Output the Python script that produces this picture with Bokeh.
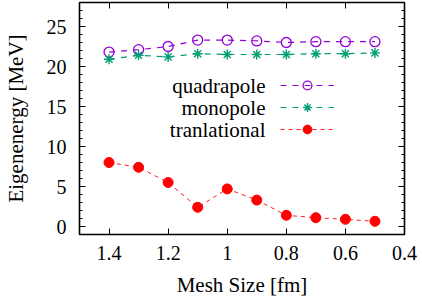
from bokeh.plotting import figure
from bokeh.models import (Range1d, FixedTicker, LinearAxis, CustomJSTickFormatter,
                          Legend, LegendItem, Label)
from bokeh.embed import file_html
from bokeh.resources import INLINE

# ---- data ----
mesh = [1.4, 1.3, 1.2, 1.1, 1.0, 0.9, 0.8, 0.7, 0.6, 0.5]
quadrapole = [21.8, 22.1, 22.5, 23.3, 23.3, 23.2, 23.0, 23.1, 23.1, 23.1]
monopole = [20.9, 21.4, 21.2, 21.6, 21.5, 21.5, 21.5, 21.6, 21.6, 21.7]
tranlational = [8.0, 7.4, 5.5, 2.4, 4.7, 3.3, 1.4, 1.1, 0.9, 0.65]
series_names = ["quadrapole", "monopole", "tranlational"]
x_ticks = [1.4, 1.2, 1.0, 0.8, 0.6, 0.4]
y_ticks = [0, 5, 10, 15, 20, 25]
y_minor = [v for v in range(1, 28) if v % 5 != 0]

FONT = "Liberation Serif"
C_QUAD = "#9400D3"
C_MONO = "#009E73"
C_TRAN = "#FF0000"

p = figure(width=422, height=300, output_backend="svg", toolbar_location=None,
           x_range=Range1d(1.5, 0.4), y_range=Range1d(-1.0, 28.0),
           min_border_left=75, min_border_right=18, min_border_top=2,
           min_border_bottom=66, x_axis_location=None, y_axis_location=None)
p.grid.visible = False
p.outline_line_color = "black"
p.outline_line_width = 1.6
p.background_fill_color = "white"
p.border_fill_color = "white"

fmt = CustomJSTickFormatter(code="return String(Math.round(tick*10)/10);")
blank = CustomJSTickFormatter(code="return '';")

def style_axis(ax, labels=True):
    ax.axis_line_color = None
    ax.major_tick_in = 6
    ax.major_tick_out = 0
    ax.minor_tick_in = 3
    ax.minor_tick_out = 0
    ax.major_tick_line_color = "black"
    ax.minor_tick_line_color = "black"
    ax.major_label_text_font = FONT
    ax.major_label_text_color = "black"
    ax.axis_label_text_font = FONT
    ax.axis_label_text_font_style = "normal"
    ax.axis_label_text_color = "black"
    if not labels:
        ax.formatter = blank
        ax.major_label_text_font_size = "0px"
        ax.major_label_standoff = 0
        ax.axis_label_standoff = 0

xt = FixedTicker(ticks=x_ticks, minor_ticks=[])
yt = FixedTicker(ticks=y_ticks, minor_ticks=y_minor)

bottom = LinearAxis(ticker=xt, formatter=fmt, axis_label="Mesh Size [fm]")
style_axis(bottom)
bottom.major_label_text_font_size = "20px"
bottom.axis_label_text_font_size = "21px"
bottom.major_label_standoff = 11
bottom.axis_label_standoff = 10
p.add_layout(bottom, "below")

left = LinearAxis(ticker=yt, formatter=fmt, axis_label="Eigenenergy [MeV]")
style_axis(left)
left.major_label_text_font_size = "20px"
left.axis_label_text_font_size = "21px"
left.major_label_standoff = 13
left.axis_label_standoff = 16
p.add_layout(left, "left")

top = LinearAxis(ticker=xt)
style_axis(top, labels=False)
p.add_layout(top, "above")

right = LinearAxis(ticker=yt)
style_axis(right, labels=False)
p.add_layout(right, "right")

# ---- series ----
lq = p.line(mesh, quadrapole, line_color=C_QUAD, line_width=1.2, line_dash="6 6")
sq = p.scatter(mesh, quadrapole, marker="circle", size=10, fill_color=None,
               line_color=C_QUAD, line_width=1.3)
lm = p.line(mesh, monopole, line_color=C_MONO, line_width=1.2, line_dash="6 6")
sm = p.scatter(mesh, monopole, marker="asterisk", size=10,
               line_color=C_MONO, line_width=1.4)
lt = p.line(mesh, tranlational, line_color=C_TRAN, line_width=0.9, line_dash="4 4")
st = p.scatter(mesh, tranlational, marker="circle", size=10, fill_color=C_TRAN,
               line_color=C_TRAN)

# ---- gnuplot-style key: text on the left, sample on the right ----
legend = Legend(items=[LegendItem(label="", renderers=[lq, sq]),
                       LegendItem(label="", renderers=[lm, sm]),
                       LegendItem(label="", renderers=[lt, st])],
                location=(201, 94), glyph_width=54, glyph_height=22,
                label_height=22, label_width=0, label_standoff=0,
                spacing=0, padding=0, margin=0,
                border_line_color=None, background_fill_alpha=0)
p.add_layout(legend, "center")

for i, name in enumerate(series_names):
    p.add_layout(Label(x=186, y=149 - 22 * i, x_units="screen", y_units="screen",
                       text=name, text_align="right", text_baseline="middle",
                       text_font=FONT, text_font_size="21px", text_color="black"))

open("out.html", "w").write(file_html(p, INLINE))
